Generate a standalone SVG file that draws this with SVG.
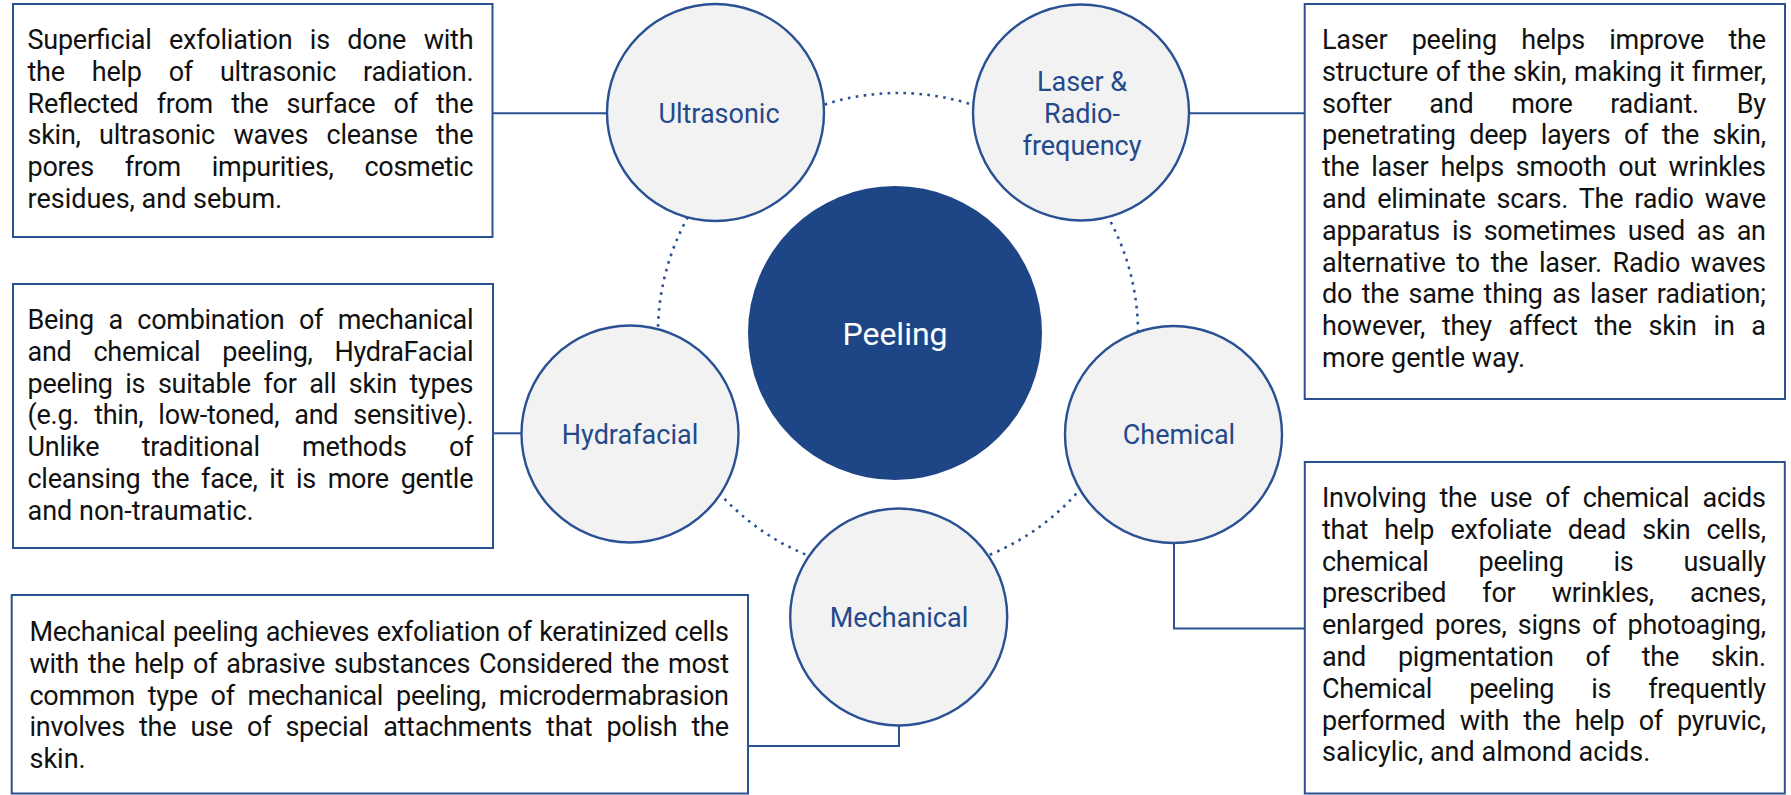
<svg xmlns="http://www.w3.org/2000/svg" width="1791" height="795" viewBox="0 0 1791 795">
<style>
.box{fill:#fff;stroke:#2a5193;stroke-width:2}
.node{fill:#f2f2f2;stroke:#2a5193;stroke-width:2.4}
.core{fill:#1e4586}
.lbl{font-family:Roboto,"Noto Sans",sans-serif;font-size:27px;fill:#24498a;text-anchor:middle}
.core-lbl{font-family:Roboto,"Noto Sans",sans-serif;font-size:32px;fill:#fff;text-anchor:middle}
.txt{font-family:Roboto,"Noto Sans",sans-serif;font-size:27px;fill:#111}
.conn{fill:none;stroke:#2a5193;stroke-width:2}
.ring{fill:none;stroke:#2a5193;stroke-width:2.6;stroke-dasharray:2.6 5.4}
</style>
<rect width="1791" height="795" fill="#fff"/>
<g id="connectors">
<circle class="ring" cx="898" cy="333" r="240"/>
<path class="conn" d="M492.5 113.3H608"/>
<path class="conn" d="M1188 113.3H1304.7"/>
<path class="conn" d="M493 433.3H522"/>
<path class="conn" d="M1174 542V628.5H1304.8"/>
<path class="conn" d="M899 725V746H748"/>
</g>
<g id="node-peeling">
<circle class="core" cx="895" cy="333" r="147"/>
<text class="core-lbl" x="895" y="345">Peeling</text>
</g>
<g id="node-ultrasonic">
<circle class="node" cx="715.5" cy="112.5" r="108.5"/>
<text class="lbl" x="719" y="123">Ultrasonic</text>
</g>
<g id="node-laser">
<circle class="node" cx="1081" cy="112.5" r="108"/>
<text class="lbl" x="1082" y="91">Laser &amp;</text>
<text class="lbl" x="1082" y="123">Radio-</text>
<text class="lbl" x="1082" y="154.5">frequency</text>
</g>
<g id="node-hydrafacial">
<circle class="node" cx="630" cy="434" r="108.5"/>
<text class="lbl" x="630" y="443.5">Hydrafacial</text>
</g>
<g id="node-chemical">
<circle class="node" cx="1173.5" cy="434.5" r="108.5"/>
<text class="lbl" x="1179" y="443.5">Chemical</text>
</g>
<g id="node-mechanical">
<circle class="node" cx="898.7" cy="617" r="108.5"/>
<text class="lbl" x="899" y="626.7">Mechanical</text>
</g>
<g id="desc-ultrasonic">
<rect class="box" x="13" y="4" width="479.5" height="233"/>
<text class="txt" x="27.5" y="49" textLength="446" lengthAdjust="spacing" style="word-spacing:11px">Superficial exfoliation is done with</text>
<text class="txt" x="27.5" y="80.8" textLength="446" lengthAdjust="spacing" style="word-spacing:20.5px">the help of ultrasonic radiation.</text>
<text class="txt" x="27.5" y="112.6" textLength="446" lengthAdjust="spacing" style="word-spacing:11.7px">Reflected from the surface of the</text>
<text class="txt" x="27.5" y="144.4" textLength="446" lengthAdjust="spacing" style="word-spacing:12px">skin, ultrasonic waves cleanse the</text>
<text class="txt" x="27.5" y="176.2" textLength="446" lengthAdjust="spacing" style="word-spacing:24.5px">pores from impurities, cosmetic</text>
<text class="txt" x="27.5" y="208">residues, and sebum.</text>
</g>
<g id="desc-hydrafacial">
<rect class="box" x="13" y="284" width="480" height="264"/>
<text class="txt" x="27.5" y="329" textLength="446" lengthAdjust="spacing" style="word-spacing:8.2px">Being a combination of mechanical</text>
<text class="txt" x="27.5" y="360.8" textLength="446" lengthAdjust="spacing" style="word-spacing:15.4px">and chemical peeling, HydraFacial</text>
<text class="txt" x="27.5" y="392.6" textLength="446" lengthAdjust="spacing" style="word-spacing:6.2px">peeling is suitable for all skin types</text>
<text class="txt" x="27.5" y="424.4" textLength="446" lengthAdjust="spacing" style="word-spacing:8.5px">(e.g. thin, low-toned, and sensitive).</text>
<text class="txt" x="27.5" y="456.2" textLength="446" lengthAdjust="spacing" style="word-spacing:35.9px">Unlike traditional methods of</text>
<text class="txt" x="27.5" y="488" textLength="446" lengthAdjust="spacing" style="word-spacing:5.3px">cleansing the face, it is more gentle</text>
<text class="txt" x="27.5" y="519.8">and non-traumatic.</text>
</g>
<g id="desc-laser">
<rect class="box" x="1304.7" y="4" width="480.3" height="395"/>
<text class="txt" x="1322" y="49" textLength="444" lengthAdjust="spacing" style="word-spacing:18px">Laser peeling helps improve the</text>
<text class="txt" x="1322" y="80.8" textLength="444" lengthAdjust="spacing" style="word-spacing:1.2px">structure of the skin, making it firmer,</text>
<text class="txt" x="1322" y="112.6" textLength="444" lengthAdjust="spacing" style="word-spacing:31.3px">softer and more radiant. By</text>
<text class="txt" x="1322" y="144.4" textLength="444" lengthAdjust="spacing" style="word-spacing:7.1px">penetrating deep layers of the skin,</text>
<text class="txt" x="1322" y="176.2" textLength="444" lengthAdjust="spacing" style="word-spacing:5.6px">the laser helps smooth out wrinkles</text>
<text class="txt" x="1322" y="208" textLength="444" lengthAdjust="spacing" style="word-spacing:4.6px">and eliminate scars. The radio wave</text>
<text class="txt" x="1322" y="239.8" textLength="444" lengthAdjust="spacing" style="word-spacing:5.5px">apparatus is sometimes used as an</text>
<text class="txt" x="1322" y="271.6" textLength="444" lengthAdjust="spacing" style="word-spacing:4.3px">alternative to the laser. Radio waves</text>
<text class="txt" x="1322" y="303.4" textLength="444" lengthAdjust="spacing" style="word-spacing:3px">do the same thing as laser radiation;</text>
<text class="txt" x="1322" y="335.2" textLength="444" lengthAdjust="spacing" style="word-spacing:10.2px">however, they affect the skin in a</text>
<text class="txt" x="1322" y="367">more gentle way.</text>
</g>
<g id="desc-chemical">
<rect class="box" x="1304.8" y="462" width="480" height="331.5"/>
<text class="txt" x="1322" y="507" textLength="444" lengthAdjust="spacing" style="word-spacing:6.7px">Involving the use of chemical acids</text>
<text class="txt" x="1322" y="538.8" textLength="444" lengthAdjust="spacing" style="word-spacing:9.8px">that help exfoliate dead skin cells,</text>
<text class="txt" x="1322" y="570.6" textLength="444" lengthAdjust="spacing" style="word-spacing:43.6px">chemical peeling is usually</text>
<text class="txt" x="1322" y="602.4" textLength="444" lengthAdjust="spacing" style="word-spacing:29.8px">prescribed for wrinkles, acnes,</text>
<text class="txt" x="1322" y="634.2" textLength="444" lengthAdjust="spacing" style="word-spacing:4.8px">enlarged pores, signs of photoaging,</text>
<text class="txt" x="1322" y="666" textLength="444" lengthAdjust="spacing" style="word-spacing:25.6px">and pigmentation of the skin.</text>
<text class="txt" x="1322" y="697.8" textLength="444" lengthAdjust="spacing" style="word-spacing:30.6px">Chemical peeling is frequently</text>
<text class="txt" x="1322" y="729.6" textLength="444" lengthAdjust="spacing" style="word-spacing:7.8px">performed with the help of pyruvic,</text>
<text class="txt" x="1322" y="761.4">salicylic, and almond acids.</text>
</g>
<g id="desc-mechanical">
<rect class="box" x="11.7" y="595" width="736.3" height="198.5"/>
<text class="txt" x="29.5" y="641" textLength="699.5" lengthAdjust="spacing" style="word-spacing:1.1px">Mechanical peeling achieves exfoliation of keratinized cells</text>
<text class="txt" x="29.5" y="672.8" textLength="699.5" lengthAdjust="spacing" style="word-spacing:2.6px">with the help of abrasive substances Considered the most</text>
<text class="txt" x="29.5" y="704.6" textLength="699.5" lengthAdjust="spacing" style="word-spacing:6.5px">common type of mechanical peeling, microdermabrasion</text>
<text class="txt" x="29.5" y="736.4" textLength="699.5" lengthAdjust="spacing" style="word-spacing:7.8px">involves the use of special attachments that polish the</text>
<text class="txt" x="29.5" y="768.2">skin.</text>
</g>
</svg>
